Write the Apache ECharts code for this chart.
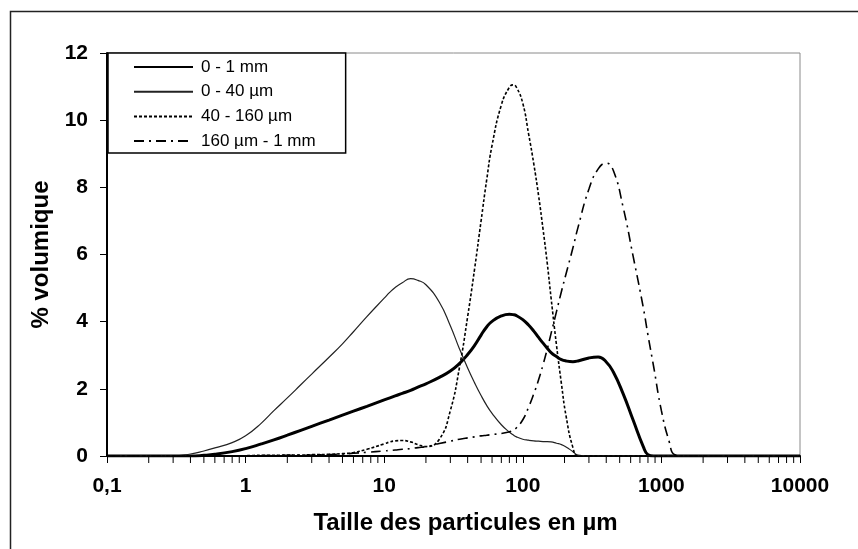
<!DOCTYPE html>
<html>
<head>
<meta charset="utf-8">
<script src="https://cdn.jsdelivr.net/npm/echarts@6/dist/echarts.min.js"></script>
<style>
  html, body { margin: 0; padding: 0; background: #fff; }
  #chart { width: 858px; height: 549px; }
</style>
</head>
<body>
<div id="chart"></div>
<script>
// Particle size classes (µm), shared by all four distributions
const sizes = [0.1, 0.2, 0.3, 0.4, 0.5, 0.6, 0.8,
  1, 1.3, 1.6, 2, 2.5, 3, 4, 5, 6, 7.5,
  10, 11, 12, 13.5, 15.5, 17.5, 20, 25, 30, 35, 40, 45, 50,
  55, 60, 70, 80, 85, 90, 100,
  110, 120, 130, 140, 150, 160, 175, 190, 205, 230,
  250, 300, 350, 400, 450, 530, 625, 740, 800, 880,
  1000, 1140, 1250, 1500, 2000, 10000];

// % volumique for each fraction
const frac0to1mm = [0, 0, 0, 0, 0.02, 0.05, 0.13,
  0.22, 0.36, 0.48, 0.62, 0.765, 0.884, 1.07, 1.217, 1.336, 1.48,
  1.67, 1.73, 1.79, 1.865, 1.955, 2.05, 2.15, 2.34, 2.53, 2.76, 3.02, 3.3, 3.6,
  3.85, 4.01, 4.17, 4.22, 4.21, 4.18, 4.06,
  3.9, 3.72, 3.53, 3.36, 3.21, 3.08, 2.96, 2.87, 2.83, 2.81,
  2.83, 2.92, 2.95, 2.8, 2.5, 1.85, 1.07, 0.28, 0.04, 0,
  0, 0, 0, 0, 0, 0];

const frac0to40 = [0, 0, 0, 0.06, 0.15, 0.24, 0.4,
  0.6, 0.98, 1.35, 1.73, 2.12, 2.44, 2.94, 3.34, 3.7, 4.15,
  4.7, 4.88, 5.02, 5.16, 5.28, 5.23, 5.1, 4.58, 3.88, 3.18, 2.62, 2.17, 1.8,
  1.5, 1.27, 0.93, 0.71, 0.63, 0.57, 0.5,
  0.47, 0.45, 0.44, 0.43, 0.43, 0.42, 0.38, 0.34, 0.27, 0.13,
  0.03, 0, 0, 0, 0, 0, 0, 0, 0, 0,
  0, 0, 0, 0, 0, 0];

const frac40to160 = [0, 0, 0, 0, 0, 0, 0,
  0.01, 0.02, 0.02, 0.03, 0.03, 0.04, 0.05, 0.07, 0.1, 0.2,
  0.36, 0.42, 0.45, 0.46, 0.42, 0.34, 0.28, 0.5, 1.35, 2.66, 4.15, 5.6, 7.0,
  8.25, 9.25, 10.45, 10.98, 11.05, 10.98, 10.5,
  9.6, 8.7, 7.75, 6.75, 5.75, 4.7, 3.3, 2.15, 1.2, 0.25,
  0, 0, 0, 0, 0, 0, 0, 0, 0, 0,
  0, 0, 0, 0, 0, 0];

const frac160to1mm = [0, 0, 0, 0, 0, 0, 0,
  0, 0.01, 0.01, 0.02, 0.02, 0.03, 0.04, 0.06, 0.08, 0.11,
  0.15, 0.165, 0.18, 0.2, 0.22, 0.25, 0.28, 0.37, 0.44, 0.5, 0.54, 0.57, 0.6,
  0.62, 0.64, 0.67, 0.72, 0.76, 0.84, 1.08,
  1.45, 1.85, 2.27, 2.72, 3.18, 3.65, 4.3, 4.9, 5.42, 6.2,
  6.8, 7.95, 8.55, 8.72, 8.5, 7.4, 5.95, 4.42, 3.6, 2.65,
  1.35, 0.42, 0.04, 0, 0, 0];

const seriesNames = ['0 - 1 mm', '0 - 40 µm', '40 - 160 µm', '160 µm - 1 mm'];
const xTickLabels = ['0,1', '1', '10', '100', '1000', '10000'];
const yTickLabels = ['0', '2', '4', '6', '8', '10', '12'];

// Minor log ticks (2..9 in each decade)
const minorTicks = [];
for (let e = -1; e <= 3; e++) {
  for (let m = 2; m <= 9; m++) minorTicks.push([m * Math.pow(10, e), 0]);
}

const pairs = vals => sizes.map((s, i) => [s, vals[i]]);
const FONT = '"Liberation Sans", Arial, sans-serif';

const lineSeries = (name, vals, lineStyle) => ({
  name: name,
  type: 'line',
  data: pairs(vals),
  showSymbol: false,
  symbol: 'none',
  smooth: 0.5,
  lineStyle: Object.assign({ color: '#000' }, lineStyle),
  itemStyle: { color: '#000' },
  z: 3
});

const chart = echarts.init(document.getElementById('chart'), null, { renderer: 'canvas' });
chart.setOption({
  animation: false,
  backgroundColor: '#fff',
  textStyle: { fontFamily: FONT },
  grid: {
    left: 107, top: 53, right: 58, bottom: 93,
    show: true, borderColor: '#8a8a8a', borderWidth: 1, backgroundColor: 'transparent'
  },
  graphic: [{
    type: 'rect', left: 8, top: 9, silent: true,
    shape: { width: 900, height: 600 },
    style: { fill: 'none', stroke: '#222', lineWidth: 1.5 },
    z: -1
  }],
  legend: {
    data: seriesNames,
    orient: 'vertical',
    left: 108, top: 53,
    padding: [4, 30, 2, 25],
    itemWidth: 59, itemHeight: 20, itemGap: 4.7,
    itemStyle: { opacity: 0 },
    backgroundColor: '#fff',
    borderColor: '#000', borderWidth: 1.5, borderRadius: 0,
    textStyle: { fontFamily: FONT, fontSize: 17, color: '#000', lineHeight: 20, padding: [0, 0, 0, 3] },
    selectedMode: false
  },
  xAxis: {
    type: 'log', logBase: 10, min: 0.1, max: 10000,
    name: 'Taille des particules en µm',
    nameLocation: 'middle', nameGap: 55,
    nameTextStyle: { fontFamily: FONT, fontSize: 24, fontWeight: 'bold', color: '#000', padding: [0, 0, 0, 24] },
    axisLine: { show: true, lineStyle: { color: '#000', width: 2 } },
    axisTick: { show: true, inside: false, length: 7, lineStyle: { color: '#000', width: 1 } },
    axisLabel: {
      margin: 20, fontFamily: FONT, fontSize: 21, fontWeight: 'bold', color: '#000',
      formatter: (v, i) => xTickLabels[i]
    },
    splitLine: { show: false },
    minorTick: { show: false }
  },
  yAxis: {
    type: 'value', min: 0, max: 12, interval: 2,
    name: '% volumique',
    nameLocation: 'middle', nameGap: 51, nameRotate: 90,
    nameTextStyle: { fontFamily: FONT, fontSize: 24, fontWeight: 'bold', color: '#000' },
    axisLine: { show: true, lineStyle: { color: '#000', width: 2 } },
    axisTick: { show: true, inside: false, length: 7, lineStyle: { color: '#000', width: 1 } },
    axisLabel: {
      margin: 19, fontFamily: FONT, fontSize: 21, fontWeight: 'bold', color: '#000',
      formatter: (v, i) => yTickLabels[i]
    },
    splitLine: { show: false }
  },
  series: [
    lineSeries(seriesNames[0], frac0to1mm, { width: 3 }),
    lineSeries(seriesNames[1], frac0to40, { width: 1.2, color: '#222' }),
    lineSeries(seriesNames[2], frac40to160, { width: 1.6, type: [3, 2] }),
    lineSeries(seriesNames[3], frac160to1mm, { width: 1.6, type: [10, 5, 2, 5] }),
    {
      name: 'minorTicks',
      type: 'custom',
      data: minorTicks,
      silent: true,
      clip: false,
      z: 5,
      renderItem: (params, api) => {
        const p = api.coord([api.value(0), 0]);
        return {
          type: 'line',
          shape: { x1: p[0], y1: p[1], x2: p[0], y2: p[1] + 7 },
          style: { stroke: '#000', lineWidth: 1 }
        };
      }
    }
  ]
});
</script>
</body>
</html>
